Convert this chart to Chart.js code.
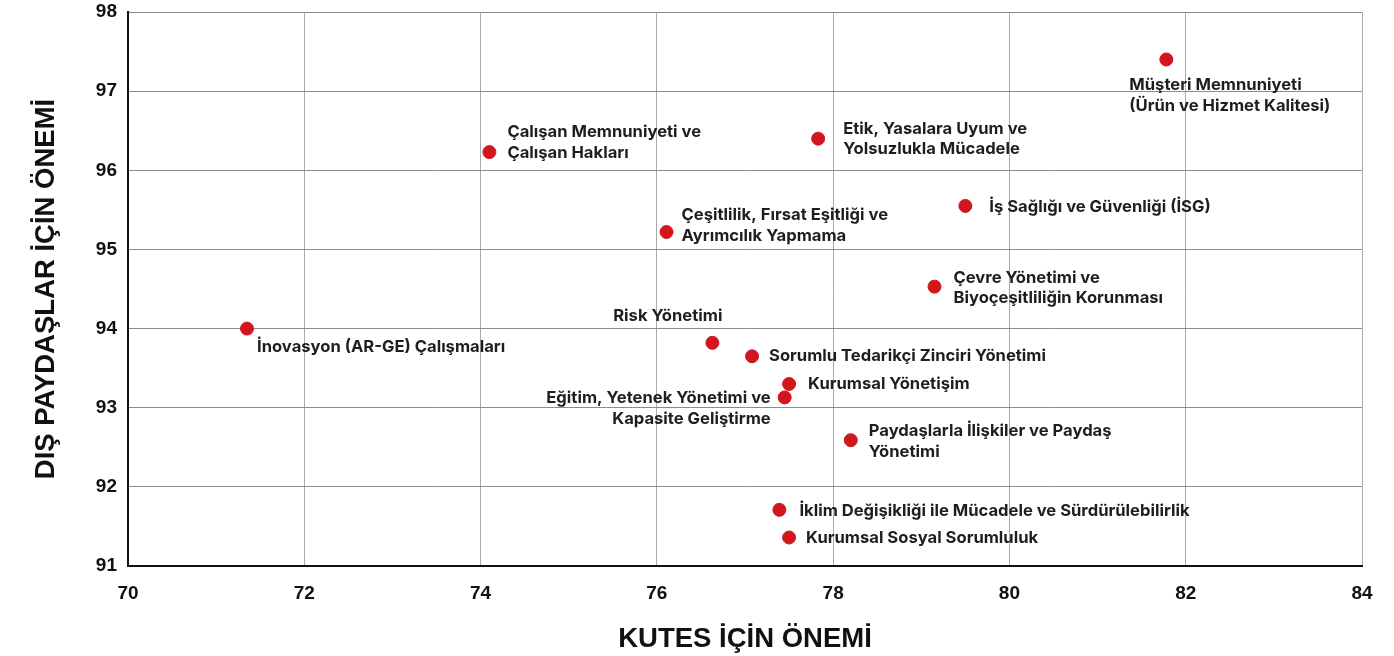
<!DOCTYPE html>
<html>
<head>
<meta charset="utf-8">
<script src="https://cdn.jsdelivr.net/npm/chart.js@4"></script>
<style>
  html, body { margin: 0; padding: 0; background: #fff; }
  #wrap { width: 1394px; height: 656px; position: relative; }
</style>
</head>
<body>
<div id="wrap"><canvas id="matrixChart"></canvas></div>
<script>
// Topics (label lines) and their scores
const topics = [
  ['Müşteri Memnuniyeti', '(Ürün ve Hizmet Kalitesi)'],
  ['Etik, Yasalara Uyum ve', 'Yolsuzlukla Mücadele'],
  ['Çalışan Memnuniyeti ve', 'Çalışan Hakları'],
  ['Çeşitlilik, Fırsat Eşitliği ve', 'Ayrımcılık Yapmama'],
  ['İş Sağlığı ve Güvenliği (İSG)'],
  ['Çevre Yönetimi ve', 'Biyoçeşitliliğin Korunması'],
  ['İnovasyon (AR-GE) Çalışmaları'],
  ['Risk Yönetimi'],
  ['Sorumlu Tedarikçi Zinciri Yönetimi'],
  ['Kurumsal Yönetişim'],
  ['Eğitim, Yetenek Yönetimi ve', 'Kapasite Geliştirme'],
  ['Paydaşlarla İlişkiler ve Paydaş', 'Yönetimi'],
  ['İklim Değişikliği ile Mücadele ve Sürdürülebilirlik'],
  ['Kurumsal Sosyal Sorumluluk']
];
const kutesScores = [81.78, 77.83, 74.10, 76.11, 79.50, 79.15, 71.35, 76.63, 77.08, 77.50, 77.45, 78.20, 77.39, 77.50];
const externalScores = [97.40, 96.40, 96.23, 95.22, 95.55, 94.53, 94.00, 93.82, 93.65, 93.30, 93.13, 92.59, 91.71, 91.36];

// Axis ranges
const xRange = [70, 84];
const yRange = [91, 98];

// Where each label sits relative to its dot: [dx, dy of first line, align]
const labelPlacement = [
  [-37, 26, 'left'],
  [25, -10, 'left'],
  [18, -20, 'left'],
  [15, -17, 'left'],
  [24, 1, 'left'],
  [19, -9, 'left'],
  [10, 18, 'left'],
  [10, -27, 'right'],
  [17, 0, 'left'],
  [19, 0, 'left'],
  [-14, 1, 'right'],
  [18, -9, 'left'],
  [20, 1, 'left'],
  [17, 0, 'left']
];

// Draw the topic names next to each dot
const pointLabels = {
  id: 'pointLabels',
  afterDatasetsDraw(chart) {
    const ctx = chart.ctx;
    const meta = chart.getDatasetMeta(0);
    ctx.save();
    ctx.font = '700 16.6px Inter';
    ctx.fillStyle = '#1e1e1e';
    ctx.textBaseline = 'middle';
    meta.data.forEach((pt, i) => {
      const [dx, dy, align] = labelPlacement[i];
      ctx.textAlign = align;
      topics[i].forEach((line, j) => {
        ctx.fillText(line, pt.x + dx, pt.y + dy + j * 20.5);
      });
    });
    ctx.restore();
  }
};

const ctx = document.getElementById('matrixChart').getContext('2d');
const matrixChart = new Chart(ctx, {
  type: 'scatter',
  data: {
    datasets: [{
      data: kutesScores.map((x, i) => ({ x: x, y: externalScores[i] })),
      backgroundColor: '#d2161e',
      borderColor: '#d2161e',
      pointRadius: 6.5,
      pointHoverRadius: 6.5
    }]
  },
  options: {
    responsive: true,
    maintainAspectRatio: false,
    animation: false,
    layout: { padding: { top: 12, right: 32, bottom: 0, left: 0 } },
    plugins: {
      legend: { display: false },
      tooltip: { enabled: false }
    },
    scales: {
      x: {
        type: 'linear',
        min: xRange[0],
        max: xRange[1],
        afterFit: (scale) => { scale.height = 90; },
        ticks: {
          stepSize: 2,
          padding: 16,
          color: '#111',
          font: { family: 'Liberation Sans', size: 19, weight: 'bold' }
        },
        grid: { color: '#ababab', lineWidth: 1, drawTicks: false },
        border: { color: '#111', width: 2 },
        title: {
          display: true,
          text: 'KUTES İÇİN ÖNEMİ',
          color: '#111',
          padding: { top: 6, bottom: 0 },
          font: { family: 'Liberation Sans', size: 27.5, weight: 'bold' }
        }
      },
      y: {
        type: 'linear',
        min: yRange[0],
        max: yRange[1],
        afterFit: (scale) => {
          scale.width = 128;
          scale.paddingTop = 0;
          scale.paddingBottom = 0;
        },
        ticks: {
          stepSize: 1,
          padding: 11,
          color: '#111',
          font: { family: 'Liberation Sans', size: 19, weight: 'bold' }
        },
        grid: { color: '#8c8c8c', lineWidth: 1, drawTicks: false },
        border: { color: '#111', width: 2 },
        title: {
          display: true,
          text: 'DIŞ PAYDAŞLAR İÇİN ÖNEMİ',
          color: '#111',
          padding: { top: 30, bottom: 0 },
          font: { family: 'Liberation Sans', size: 27.5, weight: 'bold' }
        }
      }
    }
  },
  plugins: [pointLabels]
});
</script>
</body>
</html>
